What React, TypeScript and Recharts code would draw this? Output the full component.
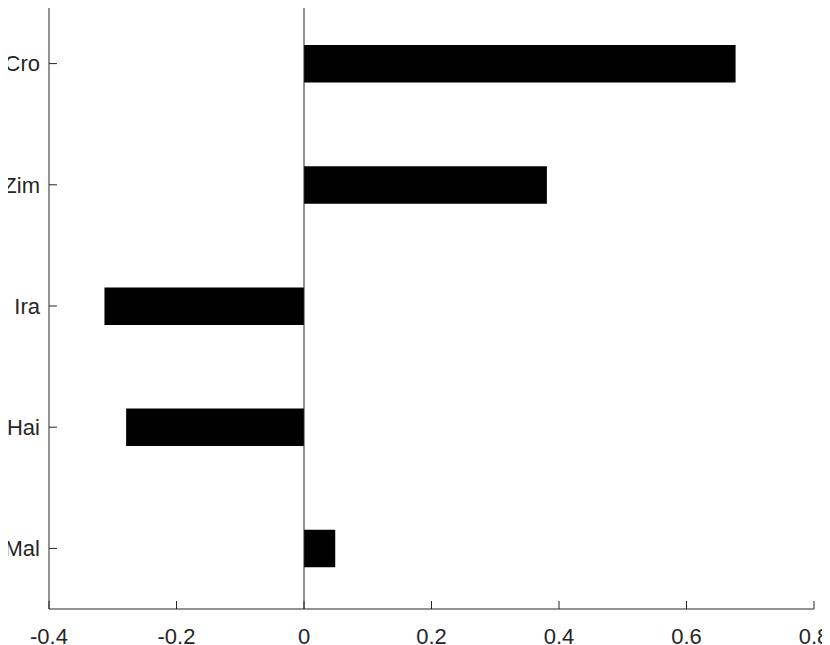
import React from "react";
import { BarChart, Bar, XAxis, YAxis, ReferenceLine } from "recharts";

const categories = ["Cro", "Zim", "Ira", "Hai", "Mal"];
const values = [0.677, 0.381, -0.313, -0.279, 0.049];
const xTicks = [-0.4, -0.2, 0, 0.2, 0.4, 0.6, 0.8];

const data = categories.map((name, i) => ({ name, value: values[i] }));

const AXIS = "#262626";
const FONT = "'Liberation Sans', Arial, Helvetica, sans-serif";
const FS = 22;
const Y_MARGIN = 9;
const X_MARGIN = 19;
const TICK_LEN = 8;

const YTick = (props: any) => {
  const { x, y, payload } = props;
  const axisX = x + Y_MARGIN;
  return (
    <g>
      <line x1={axisX} y1={y} x2={axisX + TICK_LEN} y2={y} stroke={AXIS} strokeWidth={1} />
      <text x={x} y={y} dy="0.355em" textAnchor="end" fill={AXIS} fontSize={FS} fontFamily={FONT}>
        {payload.value}
      </text>
    </g>
  );
};

const XTick = (props: any) => {
  const { x, y, payload } = props;
  const axisY = y - X_MARGIN;
  const v = Math.round(payload.value * 10) / 10;
  return (
    <g>
      <line x1={x} y1={axisY} x2={x} y2={axisY - TICK_LEN} stroke={AXIS} strokeWidth={1} />
      <text x={x} y={y} dy="0.71em" textAnchor="middle" fill={AXIS} fontSize={FS} fontFamily={FONT}>
        {String(v)}
      </text>
    </g>
  );
};

export default function App() {
  return (
    <div style={{ marginLeft: -8, marginTop: -8, width: 830, height: 645, background: "#fff" }}>
      <BarChart
        width={830}
        height={645}
        data={data}
        layout="vertical"
        margin={{ top: 3, right: 16, bottom: 0, left: 0 }}
      >
        <XAxis
          type="number"
          domain={[-0.4, 0.8]}
          ticks={xTicks}
          allowDataOverflow
          height={36}
          tickLine={false}
          tickSize={0}
          tickMargin={X_MARGIN}
          tick={<XTick />}
          axisLine={{ stroke: AXIS, strokeWidth: 1 }}
          interval={0}
        />
        <YAxis
          type="category"
          dataKey="name"
          width={49}
          tickLine={false}
          tickSize={0}
          tickMargin={Y_MARGIN}
          tick={<YTick />}
          axisLine={{ stroke: AXIS, strokeWidth: 1 }}
          interval={0}
        />
        <ReferenceLine x={0} stroke={AXIS} strokeWidth={1} />
        <Bar dataKey="value" fill="#000" barSize={37.5} isAnimationActive={false} />
      </BarChart>
    </div>
  );
}
